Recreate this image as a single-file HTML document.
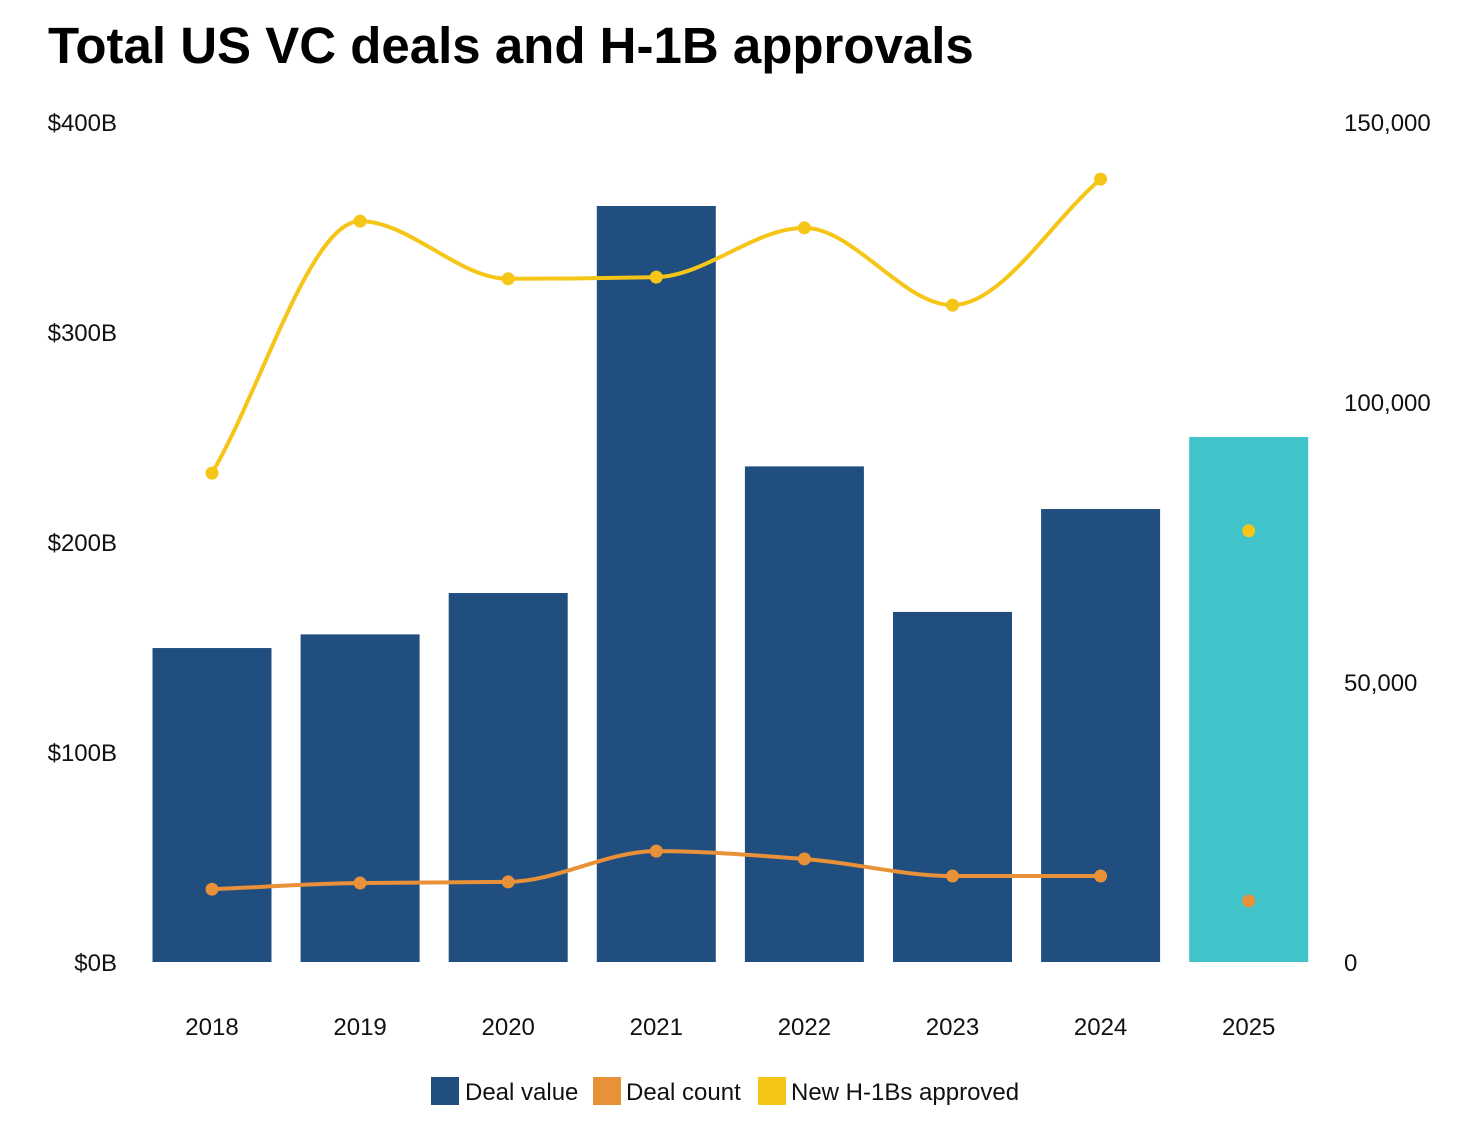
<!DOCTYPE html>
<html><head><meta charset="utf-8"><style>
html,body{margin:0;padding:0;background:#fff;}
svg{display:block;font-family:"Liberation Sans",sans-serif;}
</style></head><body>
<svg id="chart" width="1458" height="1142" viewBox="0 0 1458 1142">
<text x="48" y="63" font-size="51" font-weight="bold" fill="#000">Total US VC deals and H-1B approvals</text>
<g id="axes"></g><g id="bars"></g><g id="lines"></g>
<g font-size="24" fill="#111">
<rect x="431" y="1077" width="28" height="28" fill="#1f4e7f"/>
<text x="465" y="1100">Deal value</text>
<rect x="593" y="1077" width="28" height="28" fill="#e99138"/>
<text x="626" y="1100">Deal count</text>
<rect x="758" y="1077" width="28" height="28" fill="#f5c518"/>
<text x="791" y="1100">New H-1Bs approved</text>
</g>
</svg>
<script>
const years=["2018","2019","2020","2021","2022","2023","2024","2025"];
const dealValue=[149.5,156,175.7,360,236,166.7,215.7,250];
const dealCount=[13000,14100,14300,19800,18400,15350,15350,10900];
const h1b=[87300,132300,122000,122300,131100,117300,139800,77000];
const leftTicks=[0,100,200,300,400];
const leftTickLabels=["$0B","$100B","$200B","$300B","$400B"];
const rightTicks=[0,50000,100000,150000];
const rightTickLabels=["0","50,000","100,000","150,000"];

const NS="http://www.w3.org/2000/svg";
const y0=962,yTop=122;
const yL=v=>y0-(v/400)*(y0-yTop);
const yR=v=>y0-(v/150000)*(y0-yTop);
const xC=i=>212+i*148.1;
const bw=119;
function mk(tag,attrs,parent,txt){const e=document.createElementNS(NS,tag);for(const k in attrs)e.setAttribute(k,attrs[k]);if(txt!=null)e.textContent=txt;parent.appendChild(e);return e;}
const axes=document.getElementById('axes'),bars=document.getElementById('bars'),lines=document.getElementById('lines');
leftTicks.forEach((t,i)=>{const e=mk('text',{x:117,y:yL(t)+9,'text-anchor':'end','font-size':24,fill:'#111'},axes,leftTickLabels[i]);

});
rightTicks.forEach((t,i)=>{const e=mk('text',{x:1344,y:yR(t)+9,'font-size':24,fill:'#111'},axes,rightTickLabels[i]);

});
years.forEach((y,i)=>{const e=mk('text',{x:xC(i),y:1035,'text-anchor':'middle','font-size':24,fill:'#111'},axes,y);

});
dealValue.forEach((v,i)=>{const e=mk('rect',{x:xC(i)-bw/2,y:yL(v),width:bw,height:y0-yL(v),fill:i===7?'#41c4c9':'#1f4e7f'},bars);

});
function monotone(pts){const n=pts.length;const d=[],m=[];for(let i=0;i<n-1;i++)d.push((pts[i+1][1]-pts[i][1])/(pts[i+1][0]-pts[i][0]));
m[0]=d[0];m[n-1]=d[n-2];for(let i=1;i<n-1;i++){m[i]=(d[i-1]*d[i]<=0)?0:2/(1/d[i-1]+1/d[i]);}
let s=`M${pts[0][0]},${pts[0][1]}`;for(let i=0;i<n-1;i++){const h=pts[i+1][0]-pts[i][0];s+=` C${pts[i][0]+h/3},${pts[i][1]+m[i]*h/3} ${pts[i+1][0]-h/3},${pts[i+1][1]-m[i+1]*h/3} ${pts[i+1][0]},${pts[i+1][1]}`;}return s;}
function series(vals,color,name){const pts=vals.slice(0,7).map((v,i)=>[xC(i),yR(v)]);
const p=mk('path',{d:monotone(pts),fill:'none',stroke:color,'stroke-width':4},lines);


vals.forEach((v,i)=>{const c=mk('circle',{cx:xC(i),cy:yR(v),r:6.5,fill:color},lines);

});}
series(h1b,'#f5c518','h1b');
series(dealCount,'#e99138','deal-count');
</script>
</body></html>
